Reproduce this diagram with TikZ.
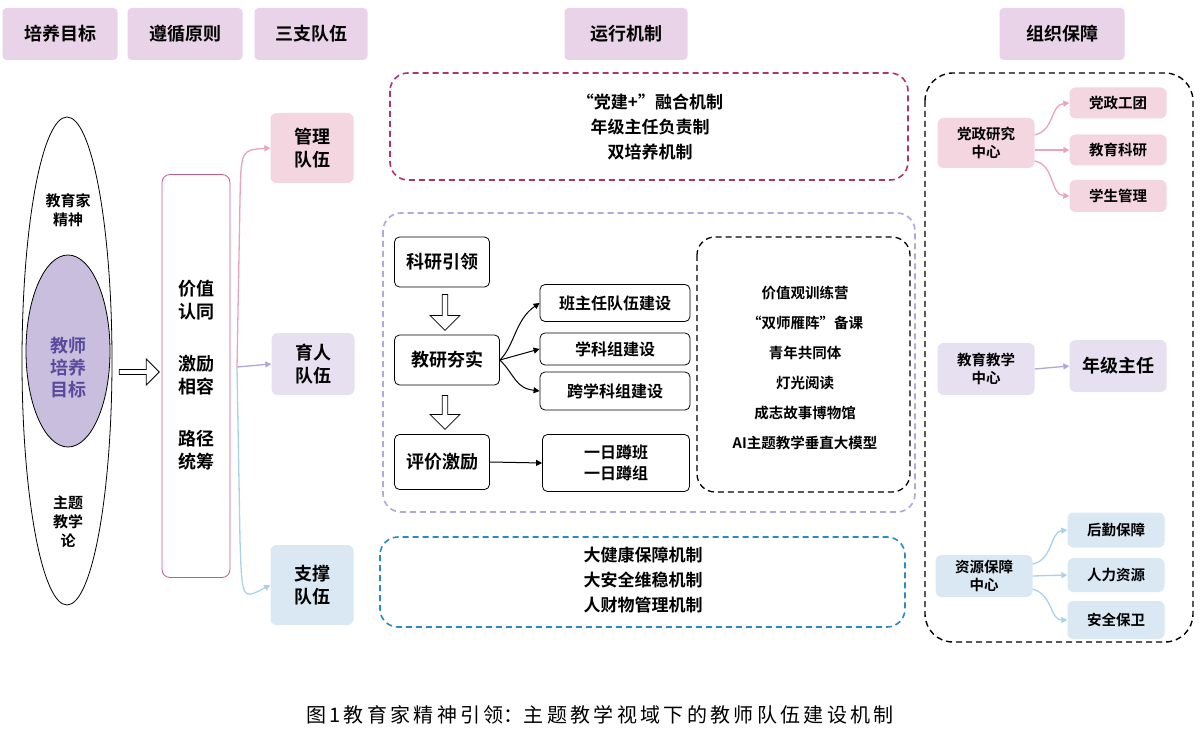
\documentclass[tikz,border=0pt]{standalone}
\usepackage{fontspec}
\setmainfont{Noto Sans CJK SC}[BoldFont=* Bold]
\usetikzlibrary{shapes.arrows,arrows.meta}
\definecolor{hdr}{HTML}{E8D3E8}
\definecolor{pk}{HTML}{F4D6E0}
\definecolor{pkl}{HTML}{E9A3BD}
\definecolor{pu}{HTML}{E6E0F0}
\definecolor{pul}{HTML}{B4A6D6}
\definecolor{bl}{HTML}{DAE8F4}
\definecolor{bll}{HTML}{A9D1EA}
\definecolor{mag}{HTML}{B0336E}
\definecolor{bdash}{HTML}{2A8AC2}
\definecolor{ell}{HTML}{C9BEDD}
\definecolor{deep}{HTML}{5A4A9C}
\begin{document}
\begin{tikzpicture}[x=1pt,y=-1pt,font=\bfseries\fontsize{15}{19}\selectfont,
 hd/.style={fill=hdr,rounded corners=4pt,font=\bfseries\fontsize{18}{20}\selectfont},
 fb/.style={rounded corners=6pt,align=center},
 wb/.style={draw,thick,rounded corners=5pt,align=center},
 dsh/.style={dashed,line width=1.6pt,rounded corners=18pt,dash pattern=on 6pt off 4pt},
 ar/.style={line width=1.3pt,-{Triangle[length=6pt,width=6pt]}},
 hol/.style={single arrow,draw,thick,fill=white,minimum height=40pt,single arrow head extend=6pt,minimum width=26pt,inner sep=1pt}]
\useasboundingbox (0,0) rectangle (1200,730);
% headers
\node[hd,minimum width=115,minimum height=52] (h1) at (60,34) {培养目标};
\node[hd,minimum width=115,minimum height=52] (h2) at (185,34) {遵循原则};
\node[hd,minimum width=113,minimum height=52] (h3) at (311,34) {三支队伍};
\node[hd,minimum width=123,minimum height=52] (h4) at (626,34) {运行机制};
\node[hd,minimum width=125,minimum height=52] (h5) at (1062,34) {组织保障};
% ellipses
\draw[thick] (67,361) ellipse [x radius=45,y radius=244];
\draw[thick,fill=ell] (68,351) ellipse [x radius=42,y radius=96];
\node[align=center] (t1) at (68,210) {教育家\\精神};
\node[align=center,text=deep,font=\bfseries\fontsize{18}{22}\selectfont] (t2) at (68,368) {教师\\培养\\目标};
\node[align=center] (t3) at (68,522) {主题\\教学\\论};
\node[hol] (ha) at (138,372) {};
% principles
\node[draw=mag!80,thick,rounded corners=8pt,minimum width=68,minimum height=403] (pr) at (196,376) {};
\node[align=center,font=\bfseries\fontsize{18}{23}\selectfont] at (196,300) {价值\\认同};
\node[align=center,font=\bfseries\fontsize{18}{23}\selectfont] at (196,375) {激励\\相容};
\node[align=center,font=\bfseries\fontsize{18}{23}\selectfont] at (196,450) {路径\\统筹};
% teams
\node[fb,fill=pk,minimum width=83,minimum height=70,font=\bfseries\fontsize{18}{23}\selectfont] (m1) at (312,148) {管理\\队伍};
\node[fb,fill=pu,minimum width=83,minimum height=62,font=\bfseries\fontsize{18}{23}\selectfont] (m2) at (313,364) {育人\\队伍};
\node[fb,fill=bl,minimum width=83,minimum height=80,font=\bfseries\fontsize{18}{23}\selectfont] (m3) at (312,585) {支撑\\队伍};
\coordinate (sp) at (237,367);
\draw[ar,pkl] (sp) -- (240,200) .. controls (241,150) .. (m1.west);
\draw[ar,pul] (sp) -- (m2.west);
\draw[ar,bll] (sp) -- (240,540) .. controls (242,600) .. (m3.west);
% top box
\draw[dsh,mag] (390,73) rectangle (908,180);
\node[align=center,font=\bfseries\fontsize{17}{25}\selectfont] (tt) at (650,127) {“党建+”融合机制\\年级主任负责制\\双培养机制};
% middle box
\draw[dsh,pul] (383,213) rectangle (915,512);
\node[wb,minimum width=95,minimum height=50,font=\bfseries\fontsize{18}{20}\selectfont] (k1) at (442,262) {科研引领};
\node[wb,minimum width=105,minimum height=50,font=\bfseries\fontsize{18}{20}\selectfont] (k2) at (447,360) {教研夯实};
\node[wb,minimum width=95,minimum height=55,font=\bfseries\fontsize{18}{20}\selectfont] (k3) at (442,462) {评价激励};
\node[hol,shape border rotate=270,minimum height=36pt,minimum width=30pt] (d1) at (445,311) {};
\node[hol,shape border rotate=270,minimum height=34pt,minimum width=30pt] (d2) at (445,411) {};
\node[wb,minimum width=150,minimum height=37,font=\bfseries\fontsize{16}{19}\selectfont] (b1) at (615,303) {班主任队伍建设};
\node[wb,minimum width=150,minimum height=32,font=\bfseries\fontsize{16}{19}\selectfont] (b2) at (615,349) {学科组建设};
\node[wb,minimum width=150,minimum height=38,font=\bfseries\fontsize{16}{19}\selectfont] (b3) at (615,391) {跨学科组建设};
\node[wb,minimum width=147,minimum height=57,font=\bfseries\fontsize{16}{21}\selectfont] (b4) at (616,463) {一日蹲班\\一日蹲组};
\draw[ar,line width=1pt,black] (k2.east) .. controls (515,345) and (515,320) .. (b1.west);
\draw[ar,line width=1pt,black] (k2.east) -- (b2.west);
\draw[ar,line width=1pt,black] (k2.east) .. controls (515,375) and (515,388) .. (b3.west);
\draw[ar,line width=1pt,black] (k3.east) -- (b4.west);
\draw[dsh,black,line width=1.3pt] (697,237) rectangle (910,492);
\node[align=center,font=\bfseries\fontsize{14.5}{30}\selectfont] (lst) at (805,368) {价值观训练营\\“双师雁阵”备课\\青年共同体\\灯光阅读\\成志故事博物馆\\AI主题教学垂直大模型};
% bottom box
\draw[dsh,bdash] (380,537) rectangle (905,627);
\node[align=center,font=\bfseries\fontsize{17}{25}\selectfont] (bt) at (643,580) {大健康保障机制\\大安全维稳机制\\人财物管理机制};
% right
\draw[dsh,black,line width=1.4pt,rounded corners=28pt] (925,73) rectangle (1193,642);
\tikzset{sb/.style={fb,minimum width=97,font=\bfseries\fontsize{14.5}{18}\selectfont}}
\node[sb,fill=pk,minimum height=50] (c1) at (986,143) {党政研究\\中心};
\node[sb,fill=pk,minimum height=31] (c11) at (1118,103) {党政工团};
\node[sb,fill=pk,minimum height=31] (c12) at (1118,150) {教育科研};
\node[sb,fill=pk,minimum height=32] (c13) at (1118,196) {学生管理};
\node[sb,fill=pu,minimum height=52] (c2) at (986,369) {教育教学\\中心};
\node[sb,fill=pu,minimum height=52,font=\bfseries\fontsize{18}{20}\selectfont] (c21) at (1118,366) {年级主任};
\node[sb,fill=bl,minimum height=42] (c3) at (984,576) {资源保障\\中心};
\node[sb,fill=bl,minimum height=35] (c31) at (1116,530) {后勤保障};
\node[sb,fill=bl,minimum height=34] (c32) at (1116,575) {人力资源};
\node[sb,fill=bl,minimum height=38] (c33) at (1116,620) {安全保卫};
\draw[ar,pkl] (c1.east) ++(0,-8) .. controls (1055,130) and (1050,105) .. (c11.west);
\draw[ar,pkl] (c1.east) ++(0,7) -- (c12.west);
\draw[ar,pkl] (c1.east) ++(0,18) .. controls (1055,165) and (1050,195) .. (c13.west);
\draw[ar,pul] (c2.east) -- (c21.west);
\draw[ar,bll] (c3.east) ++(0,-12) .. controls (1053,560) and (1050,532) .. (c31.west);
\draw[ar,bll] (c3.east) ++(0,0) -- (c32.west);
\draw[ar,bll] (c3.east) ++(0,13) .. controls (1053,595) and (1050,620) .. (c33.west);
% caption
\node[font=\fontsize{20}{22}\selectfont] (cap) at (600,715) {图\,1\,教\,育\,家\,精\,神\,引\,领：主\,题\,教\,学\,视\,域\,下\,的\,教\,师\,队\,伍\,建\,设\,机\,制};
\end{tikzpicture}
\end{document}
